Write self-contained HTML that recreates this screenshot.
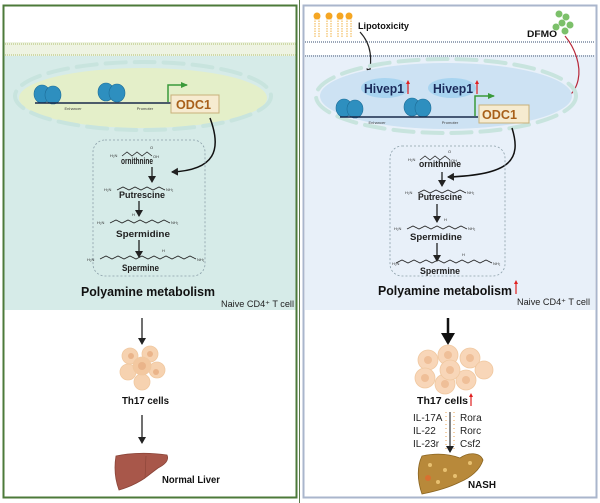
<!DOCTYPE html>
<html><head><meta charset="utf-8"><style>
body{margin:0;background:#fff}
svg{display:block;font-family:"Liberation Sans",sans-serif}
</style></head><body>
<svg width="600" height="503" viewBox="0 0 600 503" xmlns="http://www.w3.org/2000/svg">
<defs>
<marker id="ah" markerWidth="8" markerHeight="8" refX="6" refY="4" orient="auto" markerUnits="userSpaceOnUse"><path d="M0,0 L7,4 L0,8 Z" fill="#222"/></marker>
<marker id="ahg" markerWidth="8" markerHeight="8" refX="6" refY="4" orient="auto" markerUnits="userSpaceOnUse"><path d="M0,1 L7,4 L0,7 Z" fill="#3a9a3a"/></marker>
<marker id="ahb" markerWidth="14" markerHeight="14" refX="10" refY="7" orient="auto" markerUnits="userSpaceOnUse"><path d="M0,0 L12,7 L0,14 Z" fill="#111"/></marker>
</defs>
<rect width="600" height="503" fill="#fff"/>
<!-- left panel -->
<rect x="3" y="55" width="293" height="255" fill="#d6ebe8"/>
<rect x="3" y="42" width="293" height="14" fill="#eef3e2"/>
<line x1="3" y1="44" x2="296" y2="44" stroke="#cfd9a8" stroke-width="2" stroke-dasharray="1 1"/>
<line x1="3" y1="55" x2="296" y2="55" stroke="#cfd9a8" stroke-width="2" stroke-dasharray="1 1"/>
<rect x="3.5" y="5.5" width="293" height="492" fill="none" stroke="#4c7a3a" stroke-width="2"/>
<!-- right panel -->
<rect x="305" y="55" width="290" height="255" fill="#e8f0f9"/>
<line x1="305" y1="42" x2="595" y2="42" stroke="#9aa6b8" stroke-width="2" stroke-dasharray="1 1"/>
<line x1="305" y1="56" x2="595" y2="56" stroke="#9aa6b8" stroke-width="2" stroke-dasharray="1 1"/>
<rect x="303.5" y="5.5" width="293" height="492" fill="none" stroke="#aab6cc" stroke-width="2"/>
<line x1="299.5" y1="0" x2="299.5" y2="503" stroke="#5a7a4a" stroke-width="1"/>

<!-- left nucleus -->
<ellipse cx="143" cy="98" rx="124" ry="30" fill="#e4efc9"/>
<ellipse cx="143" cy="96" rx="128" ry="34" fill="none" stroke="#c8e4de" stroke-width="4" stroke-dasharray="20 9" stroke-linecap="round"/>
<g fill="#2e8fbf" stroke="#1d6e99" stroke-width="0.6">
<ellipse cx="42" cy="94" rx="8" ry="9"/><ellipse cx="53" cy="95" rx="8" ry="9"/>
<ellipse cx="106" cy="92" rx="8" ry="9"/><ellipse cx="117" cy="93" rx="8" ry="9"/></g>
<line x1="35" y1="103" x2="172" y2="103" stroke="#1a2a4a" stroke-width="1.5"/>
<text x="73" y="110" font-size="4" fill="#444" text-anchor="middle">Enhancer</text>
<text x="145" y="110" font-size="4" fill="#444" text-anchor="middle">Promoter</text>
<polyline points="168,102 168,85 187,85" fill="none" stroke="#3a9a3a" stroke-width="1.5" marker-end="url(#ahg)"/>
<rect x="171" y="95" width="48" height="18" fill="#f6ebd0" stroke="#c8b07a" stroke-width="1"/>
<text x="176" y="109" font-size="13" font-weight="bold" fill="#a8601a" textLength="35" lengthAdjust="spacingAndGlyphs">ODC1</text>
<path d="M210,118 C222,150 215,170 172,172" fill="none" stroke="#111" stroke-width="1.5" marker-end="url(#ah)"/>

<!-- left molecule box -->
<rect x="93" y="140" width="112" height="136" rx="12" fill="none" stroke="#8a9ea8" stroke-width="0.8" stroke-dasharray="2 2"/>
<g fill="none" stroke="#222" stroke-width="0.8">
<polyline points="122,156 127,152 132,156 137,152 142,156 147,152 152,156"/>
<polyline points="117,190 123,187 129,190 135,187 141,190 147,187 153,190 159,187 165,190"/>
<polyline points="110,223 116,220 122,223 128,220 134,223 140,220 146,223 152,220 158,223 164,220 170,223"/>
<polyline points="100,259 106,256 112,259 118,256 124,259 130,256 136,259 142,256 148,259 154,256 160,259 166,256 172,259 178,256 184,259 190,256 196,259"/>
</g>
<g font-size="4" fill="#333"><text x="110" y="157">H₂N</text><text x="153" y="158">OH</text><text x="150" y="149">O</text>
<text x="104" y="191">H₂N</text><text x="166" y="191">NH₂</text>
<text x="97" y="224">H₂N</text><text x="171" y="224">NH₂</text><text x="132" y="216">H</text>
<text x="87" y="261">H₂N</text><text x="197" y="261">NH₂</text><text x="162" y="252">H</text></g>
<g font-size="9" font-weight="bold" fill="#222" lengthAdjust="spacingAndGlyphs">
<text x="121" y="164" textLength="32" lengthAdjust="spacingAndGlyphs">ornithnine</text>
<text x="119" y="198" textLength="46" lengthAdjust="spacingAndGlyphs">Putrescine</text>
<text x="116" y="237" textLength="54" lengthAdjust="spacingAndGlyphs">Spermidine</text>
<text x="122" y="271" textLength="37" lengthAdjust="spacingAndGlyphs">Spermine</text></g>
<g stroke="#111" stroke-width="1.2" marker-end="url(#ah)">
<line x1="152" y1="167" x2="152" y2="182"/><line x1="139" y1="201" x2="139" y2="216"/><line x1="139" y1="240" x2="139" y2="257"/></g>
<text x="81" y="296" font-size="13" font-weight="bold" fill="#111" textLength="134" lengthAdjust="spacingAndGlyphs">Polyamine metabolism</text>
<text x="221" y="307" font-size="9" fill="#222" textLength="73" lengthAdjust="spacingAndGlyphs">Naive CD4⁺ T cell</text>

<!-- left bottom -->
<line x1="142" y1="318" x2="142" y2="344" stroke="#111" stroke-width="1.2" marker-end="url(#ah)"/>
<g fill="#f6d2b0" stroke="#f0c8a0" stroke-width="0.8">
<circle cx="130" cy="356" r="8"/><circle cx="150" cy="354" r="8"/><circle cx="157" cy="370" r="8"/><circle cx="128" cy="372" r="8"/><circle cx="142" cy="382" r="8"/><circle cx="142" cy="366" r="9" fill="#f3c8a0"/></g>
<g fill="#eab48a"><circle cx="142" cy="366" r="4"/><circle cx="131" cy="356" r="3"/><circle cx="150" cy="354" r="3"/><circle cx="156" cy="372" r="3"/></g>
<text x="122" y="404" font-size="10" font-weight="bold" fill="#111" textLength="47" lengthAdjust="spacingAndGlyphs">Th17 cells</text>
<line x1="142" y1="415" x2="142" y2="443" stroke="#111" stroke-width="1.2" marker-end="url(#ah)"/>
<path d="M116,456 Q140,451 167,455 Q170,462 158,468 Q150,474 145,478 Q133,486 119,490 Q113,474 116,456 Z" fill="#a8574a" stroke="#8a4438" stroke-width="0.8"/>
<line x1="146" y1="456" x2="145" y2="478" stroke="#8a4438" stroke-width="0.6"/>
<text x="162" y="483" font-size="10" font-weight="bold" fill="#111" textLength="58" lengthAdjust="spacingAndGlyphs">Normal Liver</text>

<!-- right top -->
<g stroke="#f0b040" stroke-width="1" fill="none">
<path d="M315,18 v20 M319,18 v20 M327,18 v20 M331,18 v20 M338,18 v20 M342,18 v20 M347,18 v20 M351,18 v20" stroke-dasharray="1.5 1"/></g>
<g fill="#f5a623"><circle cx="317" cy="16" r="3.5"/><circle cx="329" cy="16" r="3.5"/><circle cx="340" cy="16" r="3.5"/><circle cx="349" cy="16" r="3.5"/></g>
<text x="358" y="29" font-size="9" font-weight="bold" fill="#111" textLength="51" lengthAdjust="spacingAndGlyphs">Lipotoxicity</text>
<path d="M360,32 C372,45 372,60 369,75" fill="none" stroke="#222" stroke-width="1.2" marker-end="url(#ah)"/>
<g fill="#7cc06a"><circle cx="559" cy="14" r="3.5"/><circle cx="566" cy="17" r="3.5"/><circle cx="562" cy="23" r="3.5"/><circle cx="570" cy="25" r="3.5"/><circle cx="556" cy="27" r="3.5"/><circle cx="565" cy="31" r="3.5"/></g>
<text x="527" y="37" font-size="9" font-weight="bold" fill="#111" textLength="30" lengthAdjust="spacingAndGlyphs">DFMO</text>
<path d="M565,36 C585,60 590,105 535,108" fill="none" stroke="#b8283a" stroke-width="1.2"/>
<line x1="535" y1="103" x2="535" y2="113" stroke="#b8283a" stroke-width="1.5"/>

<!-- right nucleus -->
<ellipse cx="446" cy="96" rx="126" ry="33" fill="#cde2f3"/>
<ellipse cx="446" cy="96" rx="130" ry="37" fill="none" stroke="#c8e4de" stroke-width="4" stroke-dasharray="20 9" stroke-linecap="round"/>
<ellipse cx="385" cy="88" rx="24" ry="10" fill="#a8d4f0"/>
<ellipse cx="452" cy="88" rx="24" ry="10" fill="#a8d4f0"/>
<text x="364" y="93" font-size="13" font-weight="bold" fill="#1a2a5a" textLength="40" lengthAdjust="spacingAndGlyphs">Hivep1</text>
<text x="433" y="93" font-size="13" font-weight="bold" fill="#1a2a5a" textLength="40" lengthAdjust="spacingAndGlyphs">Hivep1</text>
<g stroke="#e02020" stroke-width="1.2"><line x1="408" y1="94" x2="408" y2="83"/><line x1="477" y1="94" x2="477" y2="83"/><line x1="522" y1="120" x2="522" y2="109"/><line x1="516" y1="294" x2="516" y2="283"/><line x1="471" y1="406" x2="471" y2="396"/></g>
<g fill="#e02020"><path d="M406,84 L408,80 L410,84Z"/><path d="M475,84 L477,80 L479,84Z"/><path d="M520,110 L522,106 L524,110Z"/><path d="M514,284 L516,280 L518,284Z"/><path d="M469,397 L471,393 L473,397Z"/></g>
<g fill="#2e8fbf" stroke="#1d6e99" stroke-width="0.6">
<ellipse cx="344" cy="108" rx="8" ry="9"/><ellipse cx="355" cy="109" rx="8" ry="9"/>
<ellipse cx="412" cy="107" rx="8" ry="9"/><ellipse cx="423" cy="108" rx="8" ry="9"/></g>
<line x1="340" y1="117" x2="478" y2="117" stroke="#1a2a4a" stroke-width="1.5"/>
<text x="377" y="124" font-size="4" fill="#444" text-anchor="middle">Enhancer</text>
<text x="450" y="124" font-size="4" fill="#444" text-anchor="middle">Promoter</text>
<polyline points="475,116 475,96 494,96" fill="none" stroke="#3a9a3a" stroke-width="1.5" marker-end="url(#ahg)"/>
<rect x="479" y="105" width="50" height="18" fill="#f6ebd0" stroke="#c8b07a" stroke-width="1"/>
<text x="482" y="119" font-size="13" font-weight="bold" fill="#a8601a" textLength="35" lengthAdjust="spacingAndGlyphs">ODC1</text>
<path d="M512,128 C522,160 510,175 448,177" fill="none" stroke="#111" stroke-width="1.5" marker-end="url(#ah)"/>

<!-- right molecules -->
<rect x="390" y="146" width="115" height="130" rx="12" fill="none" stroke="#8a9ea8" stroke-width="0.8" stroke-dasharray="2 2"/>
<g fill="none" stroke="#222" stroke-width="0.8">
<polyline points="420,160 425,156 430,160 435,156 440,160 445,156 450,160"/>
<polyline points="418,193 424,190 430,193 436,190 442,193 448,190 454,193 460,190 466,193"/>
<polyline points="407,229 413,226 419,229 425,226 431,229 437,226 443,229 449,226 455,229 461,226 467,229"/>
<polyline points="396,263 402,260 408,263 414,260 420,263 426,260 432,263 438,260 444,263 450,260 456,263 462,260 468,263 474,260 480,263 486,260 492,263"/></g>
<g font-size="4" fill="#333"><text x="408" y="161">H₂N</text><text x="451" y="162">OH</text><text x="448" y="153">O</text>
<text x="405" y="194">H₂N</text><text x="467" y="194">NH₂</text>
<text x="394" y="230">H₂N</text><text x="468" y="230">NH₂</text><text x="444" y="221">H</text>
<text x="392" y="265">H₂N</text><text x="493" y="265">NH₂</text><text x="462" y="256">H</text></g>
<g font-size="9" font-weight="bold" fill="#222">
<text x="419" y="167" textLength="42" lengthAdjust="spacingAndGlyphs">ornithnine</text>
<text x="418" y="200" textLength="44" lengthAdjust="spacingAndGlyphs">Putrescine</text>
<text x="410" y="240" textLength="52" lengthAdjust="spacingAndGlyphs">Spermidine</text>
<text x="420" y="274" textLength="40" lengthAdjust="spacingAndGlyphs">Spermine</text></g>
<g stroke="#111" stroke-width="1.2" marker-end="url(#ah)">
<line x1="442" y1="172" x2="442" y2="186"/><line x1="437" y1="204" x2="437" y2="222"/><line x1="437" y1="243" x2="437" y2="261"/></g>
<text x="378" y="295" font-size="13" font-weight="bold" fill="#111" textLength="134" lengthAdjust="spacingAndGlyphs">Polyamine metabolism</text>
<text x="517" y="305" font-size="9" fill="#222" textLength="73" lengthAdjust="spacingAndGlyphs">Naive CD4⁺ T cell</text>

<!-- right bottom -->
<line x1="448" y1="318" x2="448" y2="343" stroke="#111" stroke-width="2.5" marker-end="url(#ahb)"/>
<g fill="#f8d6b8" stroke="#f0c8a0" stroke-width="0.8">
<circle cx="428" cy="360" r="10"/><circle cx="448" cy="355" r="10"/><circle cx="470" cy="358" r="10"/><circle cx="484" cy="370" r="9"/><circle cx="425" cy="378" r="10"/><circle cx="445" cy="384" r="10"/><circle cx="466" cy="380" r="10"/><circle cx="450" cy="370" r="10"/></g>
<g fill="#efbf98"><circle cx="428" cy="360" r="4"/><circle cx="448" cy="355" r="4"/><circle cx="470" cy="358" r="4"/><circle cx="425" cy="378" r="4"/><circle cx="445" cy="384" r="4"/><circle cx="466" cy="380" r="4"/><circle cx="450" cy="370" r="4"/></g>
<text x="417" y="404" font-size="10" font-weight="bold" fill="#111" textLength="51" lengthAdjust="spacingAndGlyphs">Th17 cells</text>
<g font-size="10" fill="#222"><text x="413" y="421">IL-17A</text><text x="413" y="434">IL-22</text><text x="413" y="447">IL-23r</text>
<text x="460" y="421">Rora</text><text x="460" y="434">Rorc</text><text x="460" y="447">Csf2</text></g>
<line x1="450" y1="412" x2="450" y2="452" stroke="#333" stroke-width="1.2" marker-end="url(#ah)"/>
<line x1="446" y1="412" x2="446" y2="450" stroke="#e8a050" stroke-width="1" stroke-dasharray="1 3"/>
<line x1="454" y1="412" x2="454" y2="450" stroke="#e8a050" stroke-width="1" stroke-dasharray="1 3"/>
<path d="M422,456 C440,452 452,455 460,458 C468,452 480,452 483,460 C480,470 470,478 460,482 C448,488 432,492 422,494 C417,480 417,466 422,456 Z" fill="#b8893a" stroke="#8a6420" stroke-width="0.8"/>
<g fill="#e8c070"><circle cx="430" cy="465" r="2"/><circle cx="445" cy="470" r="2"/><circle cx="470" cy="463" r="2"/><circle cx="438" cy="482" r="2"/><circle cx="455" cy="476" r="2"/></g>
<circle cx="428" cy="478" r="3" fill="#d87030"/>
<text x="468" y="488" font-size="10" font-weight="bold" fill="#111" textLength="28" lengthAdjust="spacingAndGlyphs">NASH</text>
</svg>
</body></html>
